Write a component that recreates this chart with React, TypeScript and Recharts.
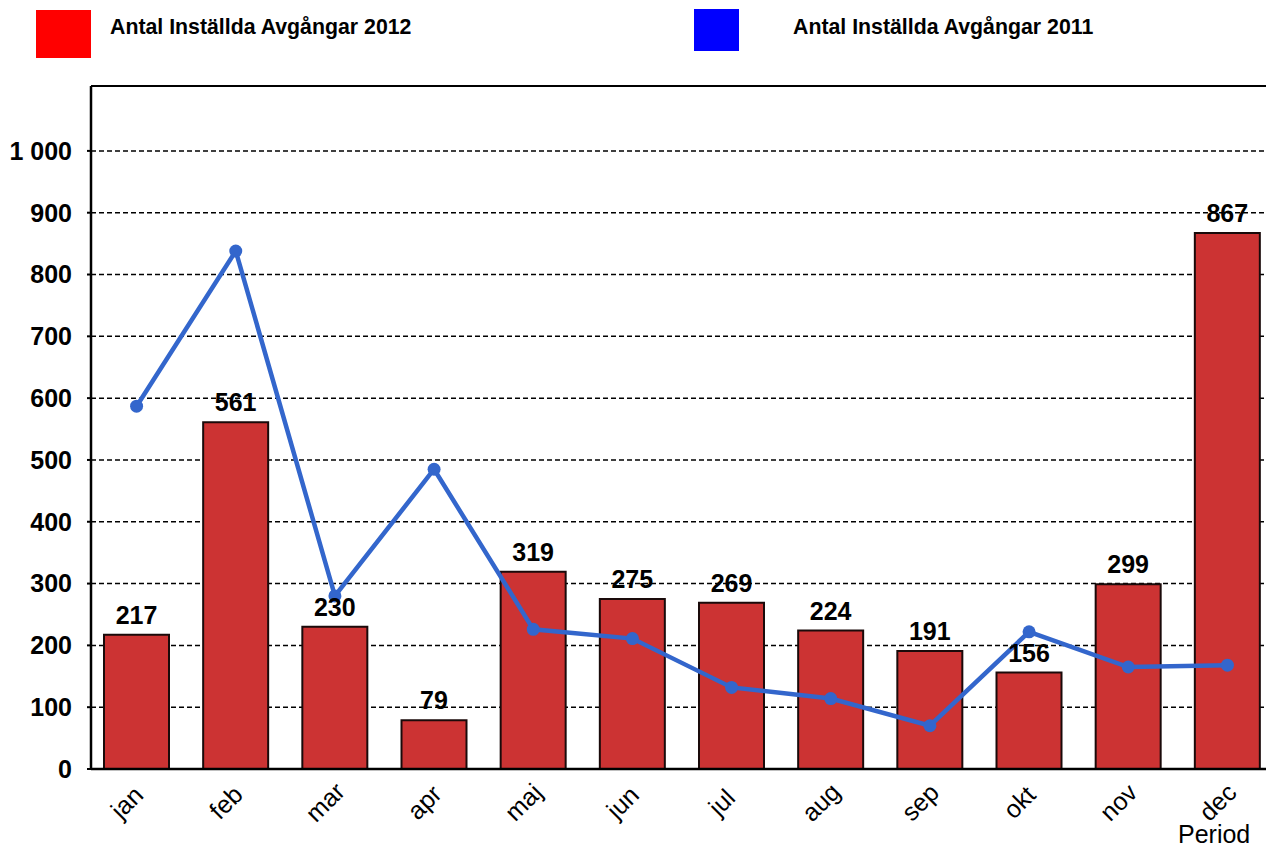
import { ComposedChart, Bar, Line, XAxis, YAxis, CartesianGrid, LabelList, ReferenceLine } from 'recharts';

const months = ['jan', 'feb', 'mar', 'apr', 'maj', 'jun', 'jul', 'aug', 'sep', 'okt', 'nov', 'dec'];
const cancelled2012 = [217, 561, 230, 79, 319, 275, 269, 224, 191, 156, 299, 867];
const cancelled2011 = [587, 838, 280, 485, 226, 211, 132, 114, 70, 222, 165, 168];
const yTicks = [0, 100, 200, 300, 400, 500, 600, 700, 800, 900, 1000];

const data = months.map((m, i) => ({ month: m, v2012: cancelled2012[i], v2011: cancelled2011[i] }));

const FONT = '"Liberation Sans", Arial, sans-serif';

const fmtThousands = (v: number) => String(v).replace(/\B(?=(\d{3})+(?!\d))/g, ' ');

// month labels are rotated about their centre, like the original
const MonthTick = (props: any) => {
  const { x, y, payload } = props;
  return (
    <g transform={`translate(${x - 10},${y + 33})`}>
      <text textAnchor="middle" dominantBaseline="central" transform="rotate(-45)" fontSize={25} fontFamily={FONT} fill="#000">
        {payload.value}
      </text>
    </g>
  );
};

const legendItems = [
  { label: 'Antal Inställda Avgångar 2012', color: '#FF0000', box: { left: 36, top: 10, width: 55, height: 48 }, textLeft: 110 },
  { label: 'Antal Inställda Avgångar 2011', color: '#0000FF', box: { left: 694, top: 9, width: 45, height: 42 }, textLeft: 793 },
];

export default function App() {
  return (
    <div style={{ position: 'fixed', left: 0, top: 0, width: 1266, height: 851, overflow: 'hidden', background: '#fff', fontFamily: FONT }}>
      {legendItems.map((it) => (
        <div key={it.label}>
          <div style={{ position: 'absolute', ...it.box, background: it.color }} />
          <div style={{ position: 'absolute', left: it.textLeft, top: 17, fontSize: 21.3, lineHeight: '21px', fontWeight: 'bold', whiteSpace: 'nowrap' }}>
            {it.label}
          </div>
        </div>
      ))}
      <div style={{ position: 'absolute', left: 0, top: 0 }}>
        <ComposedChart width={1290} height={851} data={data} margin={{ top: 86, right: 13, left: 0, bottom: 22 }}>
          <CartesianGrid vertical={false} stroke="#000" strokeWidth={1.5} strokeDasharray="5 3" />
          <ReferenceLine y={1105} stroke="#000" strokeWidth={2} />
          <XAxis
            dataKey="month"
            height={60}
            tickSize={0}
            tickMargin={0}
            tickLine={false}
            axisLine={{ stroke: '#000', strokeWidth: 2.5 }}
            padding={{ left: -4, right: 0 }}
            interval={0}
            tick={<MonthTick />}
          />
          <YAxis
            width={91}
            domain={[0, 1105]}
            ticks={yTicks}
            interval={0}
            tickSize={4}
            tickMargin={15}
            tickFormatter={fmtThousands}
            axisLine={{ stroke: '#000', strokeWidth: 2.5 }}
            tickLine={{ stroke: '#000', strokeWidth: 2 }}
            tick={{ fontSize: 25, fontWeight: 'bold', fill: '#000', fontFamily: FONT }}
          />
          <Bar dataKey="v2012" fill="#CC3333" stroke="#1A0A0A" strokeWidth={2} barSize={65} isAnimationActive={false}>
            <LabelList dataKey="v2012" position="top" offset={11} fontSize={25} fontWeight="bold" fill="#000" fontFamily={FONT} />
          </Bar>
          <Line
            dataKey="v2011"
            type="linear"
            stroke="#3366CC"
            strokeWidth={4.5}
            dot={{ r: 6.5, fill: '#3366CC', stroke: '#3366CC', strokeWidth: 0 }}
            activeDot={false}
            isAnimationActive={false}
          />
        </ComposedChart>
      </div>
      <div style={{ position: 'absolute', left: 1178, top: 822, fontSize: 25, lineHeight: '25px', whiteSpace: 'nowrap' }}>Period</div>
    </div>
  );
}
